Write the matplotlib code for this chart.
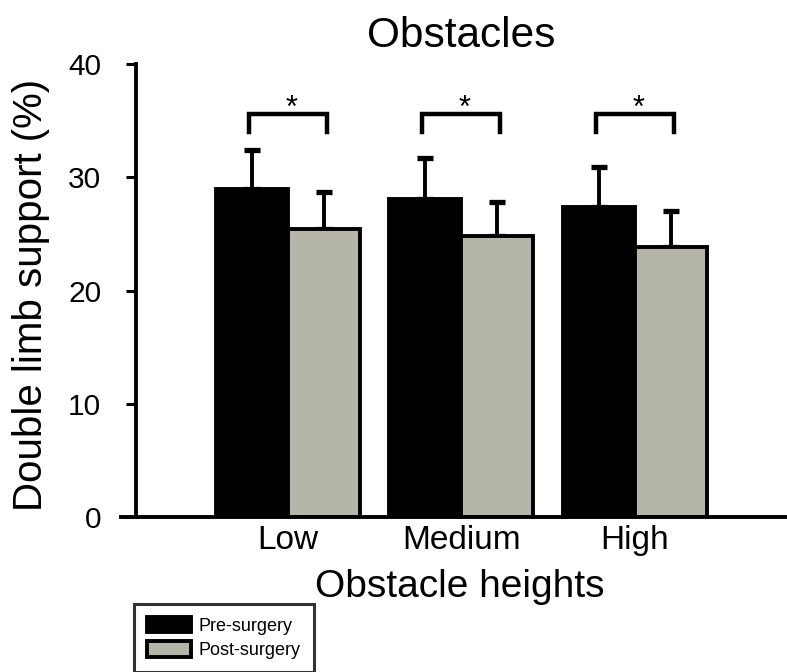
import numpy as np
import matplotlib
matplotlib.use("Agg")
import matplotlib.pyplot as plt
from matplotlib.lines import Line2D

plt.rcParams['font.family'] = ['Liberation Sans', 'DejaVu Sans']

categories = ["Low", "Medium", "High"]
pre_mean = [29.0, 28.1, 27.4]
pre_sd = [3.4, 3.6, 3.5]
post_mean = [25.4, 24.8, 23.8]
post_sd = [3.3, 3.0, 3.2]
series_names = ["Pre-surgery", "Post-surgery"]
yticks = [0, 10, 20, 30, 40]

W, H = 787, 672
fig = plt.figure(figsize=(W / 100, H / 100), dpi=100)
ax = fig.add_axes([136 / W, 1 - 517 / H, (785 - 136) / W, (517 - 64) / H])

x = np.arange(len(categories))
w = 0.415
gray = '#b5b5a9'
lw = 2.8

b1 = ax.bar(x - w / 2, pre_mean, w, color='black', edgecolor='black', linewidth=lw,
            label=series_names[0], zorder=2)
b2 = ax.bar(x + w / 2, post_mean, w, color=gray, edgecolor='black', linewidth=lw,
            label=series_names[1], zorder=2)
ax.errorbar(x - w / 2, pre_mean, yerr=[np.zeros(3), pre_sd], fmt='none', ecolor='black',
            elinewidth=lw, capsize=5.5, capthick=3.8, zorder=1)
ax.errorbar(x + w / 2, post_mean, yerr=[np.zeros(3), post_sd], fmt='none', ecolor='black',
            elinewidth=lw, capsize=5.5, capthick=3.8, zorder=1)

# significance brackets
for xi in x:
    ax.plot([xi - 0.225, xi - 0.225, xi + 0.225, xi + 0.225], [34.0, 35.6, 35.6, 34.0],
            color='black', lw=3.2, solid_capstyle='projecting', solid_joinstyle='miter',
            clip_on=False)
    ax.text(xi + 0.02, 35.3, '*', ha='center', va='baseline', fontsize=22)

ax.set_xlim(-0.876, 2.865)
ax.set_ylim(0, 40)
ax.set_yticks(yticks)
ax.set_xticks(x)
ax.set_xticklabels(categories, fontsize=24)
ax.tick_params(axis='x', length=0, pad=6)
ax.tick_params(axis='y', length=7, width=2.2, pad=18, labelsize=21.5)
for s in ['top', 'right']:
    ax.spines[s].set_visible(False)
ax.spines['left'].set_linewidth(2.8)
ax.spines['bottom'].set_linewidth(2.8)
# small overhang of the baseline to the left of the y axis
ax.add_line(Line2D([-15 / 649, 0], [0, 0], transform=ax.transAxes, color='black',
                   lw=2.8, clip_on=False))

ax.set_ylabel('Double limb support (%)', fontsize=29)
ax.yaxis.set_label_coords((50 - 136) / 649, 0.49)
ax.set_xlabel('Obstacle heights', fontsize=28, va='baseline')
ax.xaxis.set_label_coords((460 - 136) / 649, -(597 - 517) / 453)

fig.text(461 / W, 1 - 47 / H, 'Obstacles', ha='center', va='baseline', fontsize=30.5)

leg = fig.legend(handles=[b1, b2], loc='upper left', bbox_to_anchor=(134 / W, 1 - 604 / H),
                 fontsize=13, frameon=True, fancybox=False, edgecolor='black',
                 handlelength=2.45, handleheight=0.95, handletextpad=0.45,
                 labelspacing=0.35, borderpad=0.7, borderaxespad=0)
leg.get_frame().set_linewidth(2.2)

fig.savefig('out.png', dpi=100)
